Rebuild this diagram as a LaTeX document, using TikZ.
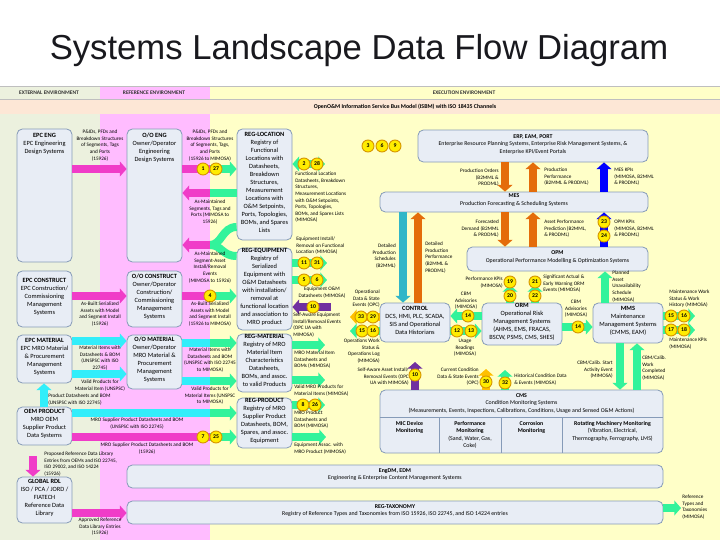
\documentclass[tikz,border=0pt]{standalone}
\usepackage{fontspec}
\setmainfont{Carlito}
\newfontfamily\titlefont{Liberation Sans}
\usetikzlibrary{arrows.meta,fit}
\definecolor{extbg}{RGB}{236,241,222}
\definecolor{refbg}{RGB}{255,188,255}
\definecolor{exebg}{RGB}{255,255,200}
\definecolor{busbg}{RGB}{253,231,214}
\definecolor{boxfill}{RGB}{232,237,245}
\definecolor{boxline}{RGB}{134,155,184}
\definecolor{cmag}{RGB}{240,60,200}
\definecolor{cgrn}{RGB}{50,243,155}
\definecolor{ccyan}{RGB}{50,238,250}
\definecolor{corange}{RGB}{228,108,10}
\definecolor{cblue}{RGB}{0,0,255}
\definecolor{cpurple}{RGB}{112,48,160}
\definecolor{cteal}{RGB}{49,182,200}
\definecolor{cgold}{RGB}{255,192,0}
\definecolor{bfill}{RGB}{255,236,0}
\definecolor{bline}{RGB}{215,150,0}
\definecolor{titlecol}{RGB}{25,25,30}
\begin{document}
\begin{tikzpicture}[x=0.75pt,y=-0.75pt,
  sysbox/.style={draw=boxline, fill=boxfill, rounded corners=4pt, line width=0.6pt, inner sep=0pt, align=center, font=\fontsize{4.8}{6}\selectfont},
  widebox/.style={sysbox, font=\fontsize{4.4}{5.6}\selectfont},
  boxtxt/.style={inner sep=0pt, align=center, font=\fontsize{4.8}{6}\selectfont},
  widetxt/.style={inner sep=0pt, align=center, font=\fontsize{4.4}{5.6}\selectfont},
  lbl/.style={inner sep=0pt, align=center, font=\fontsize{3.9}{4.9}\selectfont},
  lbll/.style={lbl, align=left, anchor=north west},
  lblr/.style={lbl, align=right, anchor=north east},
  lblc/.style={lbl, anchor=north},
  hdr/.style={inner sep=0pt, font=\bfseries\fontsize{4.1}{5}\selectfont, text=black!80},
  badge/.style={circle, draw=bline, fill=bfill, line width=0.7pt, minimum size=9pt, inner sep=0pt, font=\bfseries\fontsize{4.3}{4.3}\selectfont},
  fat/.style={line width=6pt},
  headed/.style={-{Triangle[width=11pt,length=5pt]}},
  twohead/.style={{Triangle[width=11pt,length=5pt]}-{Triangle[width=11pt,length=5pt]}},
]
\useasboundingbox (0,0) rectangle (720,540);
\fill[white] (0,0) rectangle (720,540);
% environments
\fill[extbg] (0,86) rectangle (100,540);
\fill[refbg] (100,86) rectangle (210,540);
\fill[exebg] (210,86) rectangle (720,540);
\fill[busbg] (0,99) rectangle (720,114);
\draw[gray!50, line width=0.3pt] (0,86) -- (720,86) (0,99) -- (720,99);

\node[anchor=base, font=\titlefont\fontsize{26}{30}\selectfont, text=titlecol] (title) at (359,59) {Systems Landscape Data Flow Diagram};
\node[hdr] (hext) at (49,93) {EXTERNAL ENVIRONMENT};
\node[hdr] (href) at (154,93) {REFERENCE ENVIRONMENT};
\node[hdr] (hexe) at (464,93) {EXECUTION ENVIRONMENT};
\node[inner sep=0pt, font=\bfseries\fontsize{4.4}{5}\selectfont] (bus) at (405,107) {OpenO\&M Information Service Bus Model (ISBM) with ISO 18435 Channels};

% ---------- boxes ----------
\node[sysbox, fit={(17,129) (72,262)}] (epceng) {};
\node[boxtxt, anchor=north] (epcengt) at (44.5,133) {\textbf{EPC ENG}\\EPC Engineering\\Design Systems};
\node[sysbox, fit={(127,129) (182,262)}] (ooeng) {};
\node[boxtxt, anchor=north] (ooengt) at (154.5,133) {\textbf{O/O ENG}\\Owner/Operator\\Engineering\\Design Systems};
\node[sysbox, fit={(17,271) (72,327)}] (epccon) {\textbf{EPC CONSTRUCT}\\EPC Construction/\\Commissioning\\Management\\Systems};
\node[sysbox, fit={(127,271) (182,327)}] (oocon) {\textbf{O/O CONSTRUCT}\\Owner/Operator\\Construction/\\Commissioning\\Management\\Systems};
\node[sysbox, fit={(17,335) (72,383)}] (epcmat) {\textbf{EPC MATERIAL}\\EPC MRO Material\\\& Procurement\\Management\\Systems};
\node[sysbox, fit={(127,335) (182,389)}] (oomat) {\textbf{O/O MATERIAL}\\Owner/Operator\\MRO Material \&\\Procurement\\Management\\Systems};
\node[sysbox, fit={(17,407) (72,445)}] (oemprod) {\textbf{OEM PRODUCT}\\MRO OEM\\Supplier Product\\Data Systems};
\node[sysbox, fit={(17,477) (72,523)}] (glordl) {\textbf{GLOBAL RDL}\\ISO / PCA / JORD /\\FIATECH\\Reference Data\\Library};

\node[sysbox, fit={(237,129) (292,240)}] (regloc) {\textbf{REG-LOCATION}\\Registry of\\Functional\\Locations with\\Datasheets,\\Breakdown\\Structures,\\Measurement\\Locations with\\O\&M Setpoints,\\Ports, Topologies,\\BOMs, and Spares\\Lists};
\node[sysbox, fit={(237,248) (292,330)}] (regequip) {\textbf{REG-EQUIPMENT}\\Registry of\\Serialized\\Equipment with\\O\&M Datasheets\\with installation/\\removal at\\functional location\\and association to\\MRO product};
\node[sysbox, fit={(237,334) (292,392)}] (regmat) {\textbf{REG-MATERIAL}\\Registry of MRO\\Material Item\\Characteristics\\Datasheets,\\BOMs, and assoc.\\to valid Products};
\node[sysbox, fit={(237,398) (292,448)}] (regprod) {\textbf{REG-PRODUCT}\\Registry of MRO\\Supplier Product\\Datasheets, BOM,\\Spares, and assoc.\\Equipment};

\node[widebox, fit={(418,130) (648,162)}] (erp) {\textbf{ERP, EAM, PORT}\\Enterprise Resource Planning Systems, Enterprise Risk Management Systems, \&\\Enterprise KPI/Event Portals};
\node[widebox, fit={(380,192) (648,212)}] (mes) {\textbf{MES}\\Production Forecasting \& Scheduling Systems};
\node[widebox, fit={(467,247) (648,271)}] (opm) {\textbf{OPM}\\Operational Performance Modelling \& Optimization Systems};
\node[sysbox, fit={(380,303) (450,342)}] (control) {\textbf{CONTROL}\\DCS, HMI, PLC, SCADA,\\SIS and Operational\\Data Historians};
\node[sysbox, fit={(482,303) (562,345)}] (orm) {\textbf{ORM}\\Operational Risk\\Management Systems\\(AHMS, EMS, FRACAS,\\BSCW, PSMS, CMS, SHES)};
\node[sysbox, fit={(593,303) (663,343)}] (mms) {\textbf{MMS}\\Maintenance\\Management Systems\\(CMMS, EAM)};
\node[sysbox, fit={(380,390) (663,453)}] (cms) {};
\node[widetxt, anchor=north] (cmst) at (521.5,393) {\textbf{CMS}\\Condition Monitoring Systems\\(Measurements, Events, Inspections, Calibrations, Conditions, Usage and Sensed O\&M Actions)};
\draw[boxline, line width=0.6pt] (cms.west|-0,417) -- (cms.east|-0,417);
\draw[boxline, line width=0.6pt] (439,417) -- (cms.south-|439,0) (501,417) -- (cms.south-|501,0) (562,417) -- (cms.south-|562,0);
\node[widetxt, anchor=north] (cms1) at (409.5,421) {\textbf{MIC Device}\\\textbf{Monitoring}};
\node[widetxt, anchor=north] (cms2) at (470,421) {\textbf{Performance}\\\textbf{Monitoring}\\(Sand, Water, Gas,\\Coke)};
\node[widetxt, anchor=north] (cms3) at (531.5,421) {\textbf{Corrosion}\\\textbf{Monitoring}};
\node[widetxt, anchor=north] (cms4) at (612.5,421) {\textbf{Rotating Machinery Monitoring}\\(Vibration, Electrical,\\Thermography, Ferrography, LMS)};
\node[widebox, fit={(127,465) (663,488)}] (engdm) {\textbf{EngDM, EDM}\\Engineering \& Enterprise Content Management Systems};
\node[widebox, fit={(127,501) (663,524)}] (regtax) {\textbf{REG-TAXONOMY}\\Registry of Reference Types and Taxonomies from ISO 15926, ISO 22745, and ISO 14224 entries};

% ---------- free-end coordinates ----------
\coordinate (refexe169) at (210,169);
\coordinate (refexe193) at (210,193);
\coordinate (ymerge) at (210,245);
\coordinate (refexe296) at (210,296);
\coordinate (refexe343) at (210,343);
\coordinate (refexe381) at (210,381);
\coordinate (refexe413) at (210,413);
\coordinate (refexe437) at (210,437);
\coordinate (taxout) at (681,508);
\coordinate (locout) at (325,164);
\coordinate (eqout1) at (327,263);
\coordinate (eqout2) at (327,280);
\coordinate (eqin) at (331,307);
\coordinate (matout1) at (325,345);
\coordinate (matout2) at (325,380);
\coordinate (prodout1) at (325,405);
\coordinate (prodout2) at (326,437);
\coordinate (ctlout1) at (350,317);
\coordinate (ctlout2) at (350,331);
\coordinate (ormup1) at (510,285);
\coordinate (ormup2) at (535,285);
\coordinate (mmsout1) at (695,316);
\coordinate (mmsout2) at (695,330);
\coordinate (cmsup1) at (415,362);
\coordinate (cmsup2) at (486,369);
\coordinate (cmsup3) at (505,370);

% ---------- arrows ----------
\draw[fat,cmag,headed] (epceng.east|-0,169) -- (ooeng.west|-0,169);
\draw[fat,cmag] (ooeng.east|-0,169) -- (refexe169);
\draw[fat,cgrn,headed] (refexe169) -- (regloc.west|-0,169);
\draw[fat,cgrn] (regloc.west|-0,193) -- (refexe193);
\draw[fat,cmag,headed] (refexe193) -- (ooeng.east|-0,193);
\draw[fat,cgrn] (regloc.west|-0,227) .. controls (222,227) and (222,245) .. (ymerge);
\draw[fat,cgrn] (regequip.west|-0,256) .. controls (222,256) and (222,245) .. (ymerge);
\draw[fat,cmag,headed] (ymerge) -- (ooeng.east|-0,245);

\draw[fat,cmag,headed] (epccon.east|-0,296) -- (oocon.west|-0,296);
\draw[fat,cmag] (oocon.east|-0,296) -- (refexe296);
\draw[fat,cgrn,headed] (refexe296) -- (regequip.west|-0,296);

\draw[fat,ccyan,headed] (epcmat.east|-0,341) -- (oomat.west|-0,341);
\draw[fat,ccyan,headed] (epcmat.east|-0,374) -- (oomat.west|-0,374);
\draw[fat,ccyan] (oomat.east|-0,343) -- (refexe343);
\draw[fat,cgrn,headed] (refexe343) -- (regmat.west|-0,343);
\draw[fat,ccyan] (oomat.east|-0,381) -- (refexe381);
\draw[fat,cgrn,headed] (refexe381) -- (regmat.west|-0,381);

\draw[fat,ccyan,headed] (oemprod.north-|44,0) -- (epcmat.south-|44,0);
\draw[fat,ccyan] (oemprod.east|-0,413) -- (refexe413);
\draw[fat,cgrn,headed] (refexe413) -- (regprod.west|-0,413);
\draw[fat,cmag] (oemprod.east|-0,437) -- (refexe437);
\draw[fat,cgrn,headed] (refexe437) -- (regprod.west|-0,437);
\draw[fat,cmag,headed,shorten <=8pt] (oemprod.south-|33,0) -- (glordl.north-|33,0);
\draw[fat,cmag,headed] (glordl.east|-0,513) -- (regtax.west|-0,513);
\draw[fat,cgrn,headed] (regtax.east|-0,508) -- (taxout);

\draw[fat,cgrn,twohead] (regloc.east|-0,164) -- (locout);
\draw[fat,cgrn,headed] (regequip.east|-0,263) -- (eqout1);
\draw[fat,cgrn,headed] (regequip.east|-0,280) -- (eqout2);
\draw[fat,cpurple,headed] (eqin) -- (regequip.east|-0,307);
\draw[fat,cgrn,headed] (regmat.east|-0,345) -- (matout1);
\draw[fat,cgrn,headed] (regmat.east|-0,380) -- (matout2);
\draw[fat,cgrn,headed] (regprod.east|-0,405) -- (prodout1);
\draw[fat,cgrn,headed] (regprod.east|-0,437) -- (prodout2);

\draw[fat,corange,headed] (erp.south-|505,0) -- (mes.north-|505,0);
\draw[fat,corange,headed] (mes.north-|533,0) -- (erp.south-|533,0);
\draw[fat,cblue,headed] (mes.north-|604,0) -- (erp.south-|604,0);
\draw[fat,corange,headed] (mes.south-|505,0) -- (opm.north-|505,0);
\draw[fat,corange,headed] (opm.north-|533,0) -- (mes.south-|533,0);
\draw[fat,cblue,headed] (opm.north-|604,0) -- (mes.south-|604,0);
\draw[fat,cteal,headed] (mes.south-|403,0) -- (control.north-|403,0);
\draw[fat,corange,headed] (control.north-|418,0) -- (mes.south-|418,0);

\draw[fat,cgold,headed] (control.west|-0,317) -- (ctlout1);
\draw[fat,cgrn,headed] (control.west|-0,331) -- (ctlout2);
\draw[fat,cgrn,headed] (orm.west|-0,316) -- (control.east|-0,316);
\draw[fat,cgrn,headed] (control.east|-0,331) -- (orm.west|-0,331);
\draw[fat,cgrn,headed] (orm.east|-0,327) -- (mms.west|-0,327);
\draw[fat,cgrn,headed] (orm.north-|510,0) -- (ormup1);
\draw[fat,cgrn,headed] (orm.north-|535,0) -- (ormup2);
\draw[fat,cgrn,headed] (mms.north-|605,0) -- (opm.south-|605,0);
\draw[fat,cgrn,headed] (mms.east|-0,316) -- (mmsout1);
\draw[fat,cgrn,headed] (mms.east|-0,330) -- (mmsout2);
\draw[fat,cgrn,headed] (mms.south-|620,0) -- (cms.north-|620,0);
\draw[fat,cgrn,headed] (cms.north-|637,0) -- (mms.south-|637,0);
\draw[fat,cpurple,headed] (cms.north-|415,0) -- (cmsup1);
\draw[fat,cgold,headed] (cms.north-|486,0) -- (cmsup2);
\draw[fat,cgrn,headed] (cms.north-|505,0) -- (cmsup3);

% ---------- badges ----------
\node[badge] (bA1) at (203,169) {1};
\node[badge] (bA27) at (216,169) {27};
\node[badge] (bB4) at (210,296) {4};
\node[badge] (bC7) at (203,437) {7};
\node[badge] (bC25) at (216,437) {25};
\node[badge] (bD3) at (368,146) {3};
\node[badge] (bD6) at (382,146) {6};
\node[badge] (bD9) at (395,146) {9};
\node[badge] (bE2) at (304,164) {2};
\node[badge] (bE28) at (317,164) {28};
\node[badge] (bF11) at (304,263) {11};
\node[badge] (bF31) at (317,263) {31};
\node[badge] (bF5) at (304,280) {5};
\node[badge] (bF6) at (317,280) {6};
\node[badge] (bF10) at (313,307) {10};
\node[badge] (bG8) at (303,405) {8};
\node[badge] (bG26) at (315,405) {26};
\node[badge] (bH23) at (604,222) {23};
\node[badge] (bH24) at (604,236) {24};
\node[badge] (bI33) at (361,317) {33};
\node[badge] (bI29) at (373,317) {29};
\node[badge] (bI15) at (362,331) {15};
\node[badge] (bI16) at (373,331) {16};
\node[badge] (bJ14) at (468,316) {14};
\node[badge] (bJ12) at (457,331) {12};
\node[badge] (bJ13) at (471,331) {13};
\node[badge] (bK14) at (578,327) {14};
\node[badge] (bK19) at (510,282) {19};
\node[badge] (bK20) at (510,296) {20};
\node[badge] (bK21) at (535,282) {21};
\node[badge] (bK22) at (535,296) {22};
\node[badge] (bL15) at (671,316) {15};
\node[badge] (bL16) at (684,316) {16};
\node[badge] (bL17) at (671,330) {17};
\node[badge] (bL18) at (684,330) {18};
\node[badge] (bM10) at (415,375) {10};
\node[badge] (bM30) at (486,382) {30};
\node[badge] (bM32) at (505,383) {32};

% ---------- labels ----------
\node[lblc] (l1) at (100,130) {P\&IDs, PFDs and\\Breakdown Structures\\of Segments, Tags\\and Ports\\(15926)};
\node[lblc] (l2) at (210,130) {P\&IDs, PFDs and\\Breakdown Structures\\of Segments, Tags,\\and Ports\\(15926 to MIMOSA)};
\node[lblc] (l3) at (210,200) {As-Maintained\\Segments, Tags and\\Ports (MIMOSA to\\15926)};
\node[lblc] (l4) at (210,252) {As-Maintained\\Segment-Asset\\Install/Removal\\Events\\(MIMOSA to 15926)};
\node[lblc] (l5) at (100,302) {As-Built Serialized\\Assets with Model\\and Segment Install\\(15926)};
\node[lblc] (l6) at (210,302) {As-Built Serialized\\Assets with Model\\and Segment Install\\(15926 to MIMOSA)};
\node[lblc] (l7) at (100,346) {Material Items with\\Datasheets \& BOM\\(UNSPSC with ISO\\22745)};
\node[lblc] (l8) at (210,348) {Material Items with\\Datasheets and BOM\\(UNSPSC with ISO 22745\\to MIMOSA)};
\node[lblc] (l9) at (100,380) {Valid Products for\\Material Item (UNSPSC)};
\node[lblc] (l10) at (210,387) {Valid Products for\\Material Items (UNSPSC\\to MIMOSA)};
\node[lbll] (l11) at (48,394) {Product Datasheets and BOM\\(UNSPSC with ISO 22745)};
\node[lblc] (l12) at (137,418) {MRO Supplier Product Datasheets and BOM\\(UNSPSC with ISO 22745)};
\node[lblc] (l13) at (147,443) {MRO Supplier Product Datasheets and BOM\\(15926)};
\node[lbll] (l14) at (44,452) {Proposed Reference Data Library\\Entries from OEMs and ISO 22745,\\ISO 29002, and ISO 14224\\(15926)};
\node[lblc] (l15) at (100,518) {Approved Reference\\Data Library Entries\\(15926)};
\node[lbll] (l16) at (682,495) {Reference\\Types and\\Taxonomies\\(MIMOSA)};
\node[lbll] (l17) at (295,172) {Functional Location\\Datasheets, Breakdown\\Structures,\\Measurement Locations\\with O\&M Setpoints,\\Ports, Topologies,\\BOMs, and Spares Lists\\(MIMOSA)};
\node[lblr] (l18) at (499,169) {Production Orders\\(B2MML \&\\PRODML)};
\node[lbll] (l19) at (544,168) {Production\\Performance\\(B2MML \& PRODML)};
\node[lbll] (l20) at (614,168) {MES KPIs\\(MIMOSA, B2MML\\\& PRODML)};
\node[lblr] (l21) at (499,220) {Forecasted\\Demand (B2MML\\\& PRODML)};
\node[lbll] (l22) at (544,220) {Asset Performance\\Prediction (B2MML,\\\& PRODML)};
\node[lbll] (l23) at (614,220) {OPM KPIs\\(MIMOSA, B2MML\\\& PRODML)};
\node[lblr] (l24) at (396,244) {Detailed\\Production\\Schedules\\(B2MML)};
\node[lbll] (l25) at (425,242) {Detailed\\Production\\Performance\\(B2MML \&\\PRODML)};
\node[lbll] (l26) at (296,237) {Equipment Install/\\Removal on Functional\\Location (MIMOSA)};
\node[lblc] (l27) at (322,287) {Equipment O\&M\\Datasheets (MIMOSA)};
\node[lbll] (l28) at (293,313) {Self-Aware Equipment\\Install/Removal Events\\(OPC UA with\\MIMOSA)};
\node[lbll] (l29) at (294,351) {MRO Material Item\\Datasheets and\\BOMs (MIMOSA)};
\node[lbll] (l30) at (294,385) {Valid MRO Products for\\Material Items (MIMOSA)};
\node[lbll] (l31) at (294,411) {MRO Product\\Datasheets and\\BOM (MIMOSA)};
\node[lbll] (l32) at (294,443) {Equipment Assoc. with\\MRO Product (MIMOSA)};
\node[lblr] (l33) at (380,290) {Operational\\Data \& State\\Events (OPC)};
\node[lblr] (l34) at (380,339) {Operations Work\\Status \&\\Operations Log\\(MIMOSA)};
\node[lblc] (l35) at (466,292) {CBM\\Advisories\\(MIMOSA)};
\node[lblc] (l36) at (465,339) {Usage\\Readings\\(MIMOSA)};
\node[lblr] (l37) at (503,277) {Performance KPIs\\(MIMOSA)};
\node[lbll] (l38) at (543,275) {Significant Actual \&\\Early Warning ORM\\Events (MIMOSA)};
\node[lblc] (l39) at (576,300) {CBM\\Advisories\\(MIMOSA)};
\node[lbll] (l40) at (612,271) {Planned\\Asset\\Unavailability\\Schedule\\(MIMOSA)};
\node[lbll] (l41) at (669,290) {Maintenance Work\\Status \& Work\\History (MIMOSA)};
\node[lbll] (l42) at (669,338) {Maintenance KPIs\\(MIMOSA)};
\node[lblr] (l43) at (409,368) {Self-Aware Asset Install/\\Removal Events (OPC\\UA with MIMOSA)};
\node[lblr] (l44) at (479,368) {Current Condition\\Data \& State Events\\(OPC)};
\node[lbll] (l45) at (514,374) {Historical Condition Data\\\& Events (MIMOSA)};
\node[lblr] (l46) at (613,361) {CBM/Calib. Start\\Activity Event\\(MIMOSA)};
\node[lbll] (l47) at (642,356) {CBM/Calib.\\Work\\Completed\\(MIMOSA)};
\end{tikzpicture}
\end{document}
